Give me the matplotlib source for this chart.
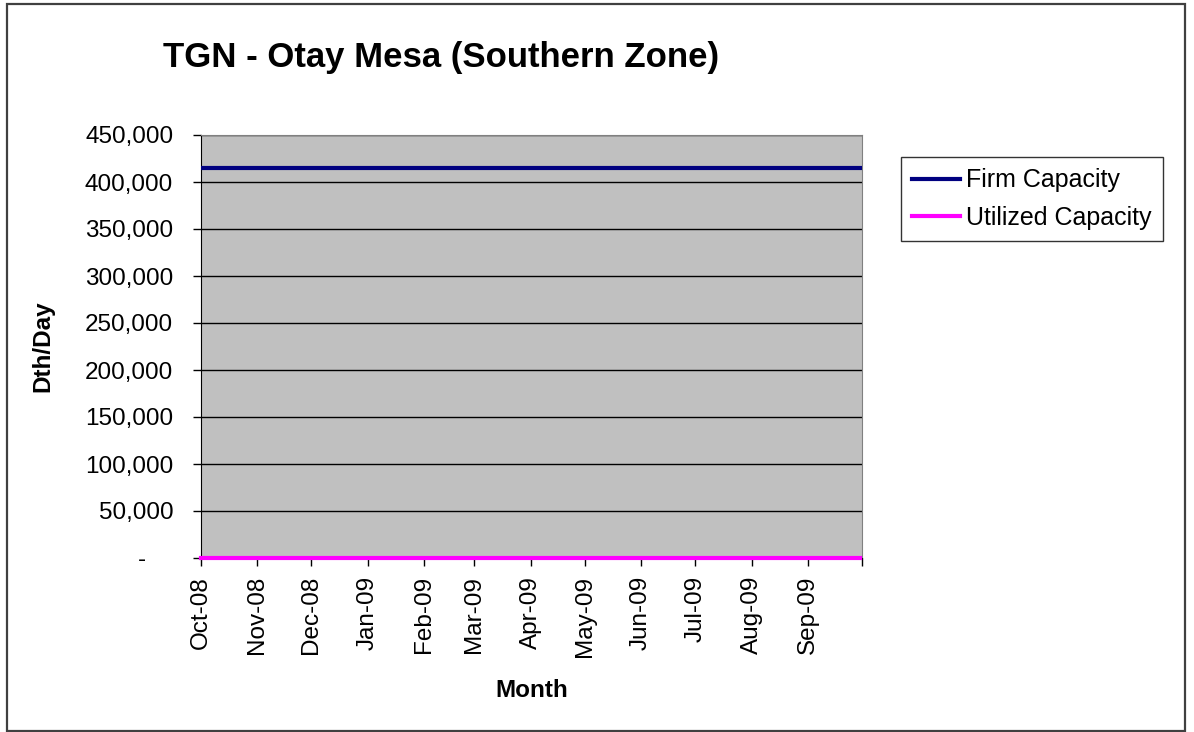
import matplotlib
matplotlib.use("Agg")
import matplotlib.pyplot as plt
from matplotlib.patches import Rectangle
from matplotlib.ticker import FuncFormatter
from datetime import datetime

plt.rcParams['font.family'] = ['Liberation Sans', 'DejaVu Sans']

# data
dates = ["2008-10-01", "2008-11-01", "2008-12-01", "2009-01-01", "2009-02-01",
         "2009-03-01", "2009-04-01", "2009-05-01", "2009-06-01", "2009-07-01",
         "2009-08-01", "2009-09-01", "2009-09-30"]
firm_capacity = [415000, 415000, 415000, 415000, 415000, 415000, 415000,
                 415000, 415000, 415000, 415000, 415000, 415000]
utilized_capacity = [0, 0, 0, 0, 0, 0, 0, 0, 0, 0, 0, 0, 0]
tick_months = ["2008-10-01", "2008-11-01", "2008-12-01", "2009-01-01", "2009-02-01",
               "2009-03-01", "2009-04-01", "2009-05-01", "2009-06-01", "2009-07-01",
               "2009-08-01", "2009-09-01", "2009-10-01"]

x = [datetime.strptime(d, "%Y-%m-%d") for d in dates]
xt = [datetime.strptime(d, "%Y-%m-%d") for d in tick_months]

fig = plt.figure(figsize=(11.94, 7.32), dpi=100)
ax = fig.add_axes([201 / 1194, 1 - 558 / 732, 661 / 1194, 423 / 732])
ax.set_facecolor('#C0C0C0')

# outer chart border
fig.patches.append(Rectangle((7 / 1194, 1.5 / 732), 1178 / 1194, 727 / 732,
                             transform=fig.transFigure, fill=False,
                             edgecolor='#404040', linewidth=1.6))

ax.plot(x, firm_capacity, color='#000080', lw=3, label='Firm Capacity', zorder=3)
ax.plot(x, utilized_capacity, color='#FF00FF', lw=3, label='Utilized Capacity',
        zorder=3, clip_on=False)

ax.set_xlim(xt[0], xt[-1])
ax.set_ylim(0, 450000)
ax.set_yticks(range(0, 450001, 50000))
ax.yaxis.set_major_formatter(FuncFormatter(
    lambda v, p: "-    " if v == 0 else f"{int(v):,}"))
ax.set_xticks(xt)
ax.set_xticklabels([d.strftime("%b-%y") for d in xt[:-1]] + [""], rotation=90,
                   va='top', ha='center')

ax.grid(axis='y', color='#000000', lw=1)
ax.set_axisbelow(True)
ax.tick_params(axis='y', length=6, width=1, pad=14, labelsize=17.5, direction='out')
ax.tick_params(axis='x', length=6, width=1, pad=7, labelsize=17.5, direction='out')
for s in ['top', 'right']:
    ax.spines[s].set_color('#808080')
ax.spines['left'].set_color('black')
ax.spines['bottom'].set_color('black')

ax.set_ylabel('Dth/Day', fontsize=17.5, fontweight='bold', labelpad=22)
ax.set_xlabel('Month', fontsize=17.5, fontweight='bold', labelpad=16)
fig.text(441 / 1194, 1 - 57 / 732, 'TGN - Otay Mesa (Southern Zone)',
         fontsize=25, fontweight='bold', ha='center', va='center')

leg = ax.legend(loc='upper left', bbox_to_anchor=(901 / 1194, 1 - 157 / 732),
                bbox_transform=fig.transFigure, fontsize=18, frameon=True,
                fancybox=False, edgecolor='black', borderaxespad=0,
                handlelength=1.9, handletextpad=0.25, labelspacing=0.55,
                borderpad=0.45)
leg.get_frame().set_linewidth(1)

fig.savefig('out.png', dpi=100)
